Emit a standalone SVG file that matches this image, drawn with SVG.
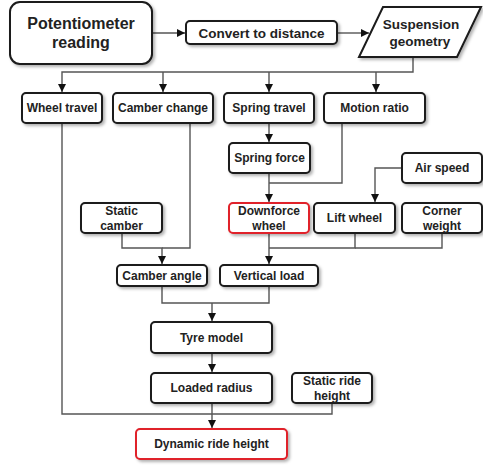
<svg xmlns="http://www.w3.org/2000/svg" width="483" height="468" viewBox="0 0 483 468">
<style>
.b{fill:#fff;stroke:#1a1a1a;stroke-width:2;filter:url(#sh)}
.r{fill:#fff;stroke:#e0202a;stroke-width:2;filter:url(#sh)}
.t{font-family:"Liberation Sans",Arial,sans-serif;font-weight:bold;font-size:12px;fill:#222;text-anchor:middle}
.big{font-size:16px}
.m{font-size:13.5px}
.c{fill:none;stroke:#555;stroke-width:1.4}
.a{marker-end:url(#ar)}
</style>
<defs>
<filter id="sh" x="-20%" y="-20%" width="140%" height="150%">
<feDropShadow dx="2" dy="2" stdDeviation="1.5" flood-color="#000" flood-opacity="0.3"/>
</filter>
<marker id="ar" markerUnits="userSpaceOnUse" markerWidth="10" markerHeight="10" refX="8" refY="4" orient="auto">
<path d="M0,0 L8,4 L0,8 Z" fill="#111"/>
</marker>
</defs>
<g id="connectors">
<path class="c a" d="M152,33 H185"/>
<path class="c a" d="M337,33 H369"/>
<path class="c a" d="M413,57 V72 H62 V92"/>
<path class="c a" d="M163,72 V92"/>
<path class="c a" d="M269,72 V92"/>
<path class="c a" d="M376,72 V92"/>
<path class="c a" d="M269,123 V142"/>
<path class="c a" d="M269,173 V202"/>
<path class="c" d="M342,123 V183 H269"/>
<path class="c a" d="M402,168 H375 V202"/>
<path class="c a" d="M269,233 V264"/>
<path class="c" d="M355,233 V248 H269"/>
<path class="c" d="M442,233 V248 H355"/>
<path class="c" d="M190,123 V248 H162"/>
<path class="c a" d="M122,233 V248 H162 V264"/>
<path class="c" d="M162,286 V303 H269 V286"/>
<path class="c a" d="M212,303 V321"/>
<path class="c a" d="M212,353 V372"/>
<path class="c a" d="M212,403 V428"/>
<path class="c" d="M62,123 V414 H332 V403"/>
</g>
<g id="potentiometer"><rect class="b" x="10" y="2" width="142" height="62" rx="10"/><text class="t big" x="81" y="29">Potentiometer</text><text class="t big" x="81" y="48">reading</text></g>
<g id="convert"><rect class="b" x="186" y="21" width="151" height="23" rx="4"/><text class="t m" x="261.5" y="37.5">Convert to distance</text></g>
<g id="suspension"><path class="b" d="M383,7 H481 L457,57 H359 Z"/><text class="t m" x="421" y="29">Suspension</text><text class="t m" x="420" y="46">geometry</text></g>
<g id="wheel-travel"><rect class="b" x="22" y="93" width="80" height="30" rx="4"/><text class="t" x="62" y="112">Wheel travel</text></g>
<g id="camber-change"><rect class="b" x="113" y="93" width="100" height="30" rx="4"/><text class="t" x="163" y="112">Camber change</text></g>
<g id="spring-travel"><rect class="b" x="224" y="93" width="90" height="30" rx="4"/><text class="t" x="269" y="112">Spring travel</text></g>
<g id="motion-ratio"><rect class="b" x="324" y="93" width="101" height="30" rx="4"/><text class="t" x="374.5" y="112">Motion ratio</text></g>
<g id="spring-force"><rect class="b" x="229" y="143" width="81" height="30" rx="4"/><text class="t" x="269.5" y="162">Spring force</text></g>
<g id="air-speed"><rect class="b" x="402" y="153" width="80" height="30" rx="4"/><text class="t" x="442" y="172">Air speed</text></g>
<g id="static-camber"><rect class="b" x="81" y="203" width="81" height="30" rx="4"/><text class="t" x="121.5" y="215">Static</text><text class="t" x="121.5" y="230">camber</text></g>
<g id="downforce-wheel"><rect class="r" x="229" y="203" width="80" height="30" rx="4"/><text class="t" x="269" y="215">Downforce</text><text class="t" x="269" y="230">wheel</text></g>
<g id="lift-wheel"><rect class="b" x="314" y="203" width="81" height="30" rx="4"/><text class="t" x="354.5" y="222">Lift wheel</text></g>
<g id="corner-weight"><rect class="b" x="402" y="203" width="80" height="30" rx="4"/><text class="t" x="442" y="215">Corner</text><text class="t" x="442" y="230">weight</text></g>
<g id="camber-angle"><rect class="b" x="117" y="265" width="90" height="21" rx="4"/><text class="t" x="162" y="279.5">Camber angle</text></g>
<g id="vertical-load"><rect class="b" x="220" y="265" width="98" height="21" rx="4"/><text class="t" x="269" y="279.5">Vertical load</text></g>
<g id="tyre-model"><rect class="b" x="151" y="322" width="121" height="31" rx="4"/><text class="t" x="211.5" y="341.5">Tyre model</text></g>
<g id="loaded-radius"><rect class="b" x="151" y="373" width="121" height="30" rx="4"/><text class="t" x="211.5" y="392">Loaded radius</text></g>
<g id="static-ride-height"><rect class="b" x="292" y="373" width="80" height="30" rx="4"/><text class="t" x="332" y="385">Static ride</text><text class="t" x="332" y="400">height</text></g>
<g id="dynamic-ride-height"><rect class="r" x="136" y="429" width="151" height="30" rx="4"/><text class="t" x="211.5" y="447.5">Dynamic ride height</text></g>
</svg>
